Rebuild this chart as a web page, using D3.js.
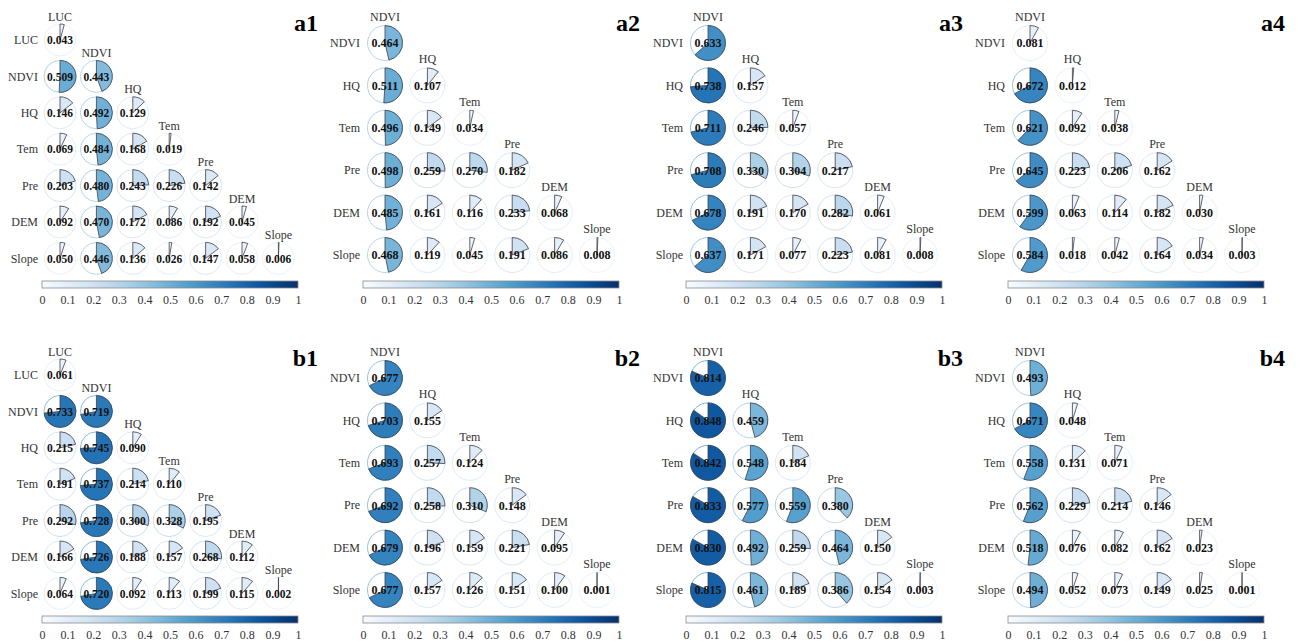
<!DOCTYPE html>
<html>
<head>
<meta charset="utf-8">
<script src="https://cdn.jsdelivr.net/npm/d3@7/dist/d3.min.js"></script>
<style>
  html, body { margin: 0; padding: 0; background: #fff; }
  svg { display: block; }
  svg text { font-family: "Liberation Serif", "Times New Roman", "DejaVu Serif", serif !important; }
</style>
</head>
<body>
<svg id="chart" width="1301" height="642" font-family="'Liberation Serif', 'Times New Roman', serif"></svg>
<script>
// Variable sets
const varsWithLUC = ["LUC", "NDVI", "HQ", "Tem", "Pre", "DEM", "Slope"];
const varsNoLUC = ["NDVI", "HQ", "Tem", "Pre", "DEM", "Slope"];

// Lower-triangle q values, one row per variable (row i has i+1 entries)
const a1Values = [
  [0.043],
  [0.509, 0.443],
  [0.146, 0.492, 0.129],
  [0.069, 0.484, 0.168, 0.019],
  [0.203, 0.480, 0.243, 0.226, 0.142],
  [0.092, 0.470, 0.172, 0.086, 0.192, 0.045],
  [0.050, 0.446, 0.136, 0.026, 0.147, 0.058, 0.006]
];
const a2Values = [
  [0.464],
  [0.511, 0.107],
  [0.496, 0.149, 0.034],
  [0.498, 0.259, 0.270, 0.182],
  [0.485, 0.161, 0.116, 0.233, 0.068],
  [0.468, 0.119, 0.045, 0.191, 0.086, 0.008]
];
const a3Values = [
  [0.633],
  [0.738, 0.157],
  [0.711, 0.246, 0.057],
  [0.708, 0.330, 0.304, 0.217],
  [0.678, 0.191, 0.170, 0.282, 0.061],
  [0.637, 0.171, 0.077, 0.223, 0.081, 0.008]
];
const a4Values = [
  [0.081],
  [0.672, 0.012],
  [0.621, 0.092, 0.038],
  [0.645, 0.223, 0.206, 0.162],
  [0.599, 0.063, 0.114, 0.182, 0.030],
  [0.584, 0.018, 0.042, 0.164, 0.034, 0.003]
];
const b1Values = [
  [0.061],
  [0.733, 0.719],
  [0.215, 0.745, 0.090],
  [0.191, 0.737, 0.214, 0.110],
  [0.292, 0.728, 0.300, 0.328, 0.195],
  [0.166, 0.726, 0.188, 0.157, 0.268, 0.112],
  [0.064, 0.720, 0.092, 0.113, 0.199, 0.115, 0.002]
];
const b2Values = [
  [0.677],
  [0.703, 0.155],
  [0.693, 0.257, 0.124],
  [0.692, 0.258, 0.310, 0.148],
  [0.679, 0.196, 0.159, 0.221, 0.095],
  [0.677, 0.157, 0.126, 0.151, 0.100, 0.001]
];
const b3Values = [
  [0.814],
  [0.848, 0.459],
  [0.842, 0.548, 0.184],
  [0.833, 0.577, 0.559, 0.380],
  [0.830, 0.492, 0.259, 0.464, 0.150],
  [0.815, 0.461, 0.189, 0.386, 0.154, 0.003]
];
const b4Values = [
  [0.493],
  [0.671, 0.048],
  [0.558, 0.131, 0.071],
  [0.562, 0.229, 0.214, 0.146],
  [0.518, 0.076, 0.082, 0.162, 0.023],
  [0.494, 0.052, 0.073, 0.149, 0.025, 0.001]
];

const panelNames = ["a1", "a2", "a3", "a4", "b1", "b2", "b3", "b4"];
const colorbarTicks = [0, 0.1, 0.2, 0.3, 0.4, 0.5, 0.6, 0.7, 0.8, 0.9, 1];
const colorbarTickLabels = ["0", "0.1", "0.2", "0.3", "0.4", "0.5", "0.6", "0.7", "0.8", "0.9", "1"];

const panels = [
  { name: panelNames[0], vars: varsWithLUC, values: a1Values },
  { name: panelNames[1], vars: varsNoLUC, values: a2Values },
  { name: panelNames[2], vars: varsNoLUC, values: a3Values },
  { name: panelNames[3], vars: varsNoLUC, values: a4Values },
  { name: panelNames[4], vars: varsWithLUC, values: b1Values },
  { name: panelNames[5], vars: varsNoLUC, values: b2Values },
  { name: panelNames[6], vars: varsNoLUC, values: b3Values },
  { name: panelNames[7], vars: varsNoLUC, values: b4Values }
];

const SERIF = "'Liberation Serif', 'Times New Roman', 'DejaVu Serif', serif";

// Panel placement
const colStarts = [60, 385, 708, 1030];
const rowOffsets = [0, 335];

const color = d3.scaleSequential(d3.interpolateBlues).domain([0, 1]);
const svg = d3.select("#chart");

// Shared gradient for the colour bars
const defs = svg.append("defs");
const grad = defs.append("linearGradient").attr("id", "bluesGrad")
  .attr("x1", "0%").attr("x2", "100%").attr("y1", "0%").attr("y2", "0%");
d3.range(0, 1.0001, 0.05).forEach(t => {
  grad.append("stop").attr("offset", (t * 100) + "%").attr("stop-color", color(t));
});

panels.forEach((p, pi) => {
  const col = pi % 4, row = Math.floor(pi / 4);
  const n = p.vars.length;
  const small = n === 7;
  const step = small ? 36.4 : 42.4;
  const r = small ? 16 : 17.5;
  const x0 = colStarts[col];
  const y0 = (small ? 40 : 43) + rowOffsets[row];

  const x = d3.scalePoint().domain(p.vars).range([x0, x0 + (n - 1) * step]);
  const y = d3.scalePoint().domain(p.vars).range([y0, y0 + (n - 1) * step]);

  const g = svg.append("g").attr("class", "panel").attr("font-family", SERIF);

  const cells = [];
  p.values.forEach((rowVals, i) => {
    rowVals.forEach((v, j) => {
      cells.push({ rowVar: p.vars[i], colVar: p.vars[j], v, diag: i === j });
    });
  });

  const arc = d3.arc().innerRadius(0).outerRadius(r).startAngle(0);

  const cell = g.selectAll("g.cell").data(cells).join("g")
    .attr("class", "cell")
    .attr("transform", d => `translate(${x(d.colVar)},${y(d.rowVar)})`);

  cell.append("circle")
    .attr("r", r)
    .attr("fill", "#fff")
    .attr("stroke", d => d3.interpolateBlues(0.06 + d.v * 0.5))
    .attr("stroke-width", 1);

  cell.append("path")
    .attr("d", d => arc({ endAngle: d.v * 2 * Math.PI }))
    .attr("fill", d => color(d.v))
    .attr("stroke", "#3b3f4c")
    .attr("stroke-width", 0.8)
    .attr("stroke-linejoin", "miter");

  cell.append("text")
    .attr("text-anchor", "middle")
    .attr("dy", "0.36em")
    .attr("font-family", SERIF)
    .attr("font-size", small ? 11.5 : 12)
    .attr("font-weight", "bold")
    .attr("fill", "#111")
    .text(d => d3.format(".3f")(d.v));

  // Column titles above the diagonal cells
  g.selectAll("text.diag").data(p.vars).join("text")
    .attr("class", "diag")
    .attr("x", d => x(d))
    .attr("y", d => y(d) - r - (small ? 3.5 : 4.5))
    .attr("text-anchor", "middle")
    .attr("font-family", SERIF)
    .attr("font-size", 12)
    .attr("fill", "#333")
    .text(d => d);

  // Row labels
  g.selectAll("text.rowlab").data(p.vars).join("text")
    .attr("class", "rowlab")
    .attr("x", x0 - (small ? 22 : 25))
    .attr("y", d => y(d))
    .attr("dy", "0.35em")
    .attr("text-anchor", "end")
    .attr("font-family", SERIF)
    .attr("font-size", 12)
    .attr("fill", "#333")
    .text(d => d);

  // Panel tag
  g.append("text")
    .attr("x", x0 + (small ? 258 : 255))
    .attr("y", 31 + rowOffsets[row])
    .attr("text-anchor", "end")
    .attr("font-family", SERIF)
    .attr("font-size", 24)
    .attr("font-weight", "bold")
    .attr("fill", "#000")
    .text(p.name);

  // Colour bar
  const cbX = x0 - (small ? 18 : 22);
  const cbW = 256;
  const cbY = 281 + rowOffsets[row];
  const cbH = 7;
  g.append("rect")
    .attr("x", cbX).attr("y", cbY).attr("width", cbW).attr("height", cbH)
    .attr("fill", "url(#bluesGrad)")
    .attr("stroke", "#8a8a8a").attr("stroke-width", 0.8);

  const cbScale = d3.scaleLinear().domain([0, 1]).range([cbX, cbX + cbW]);
  const axis = d3.axisBottom(cbScale)
    .tickValues(colorbarTicks)
    .tickFormat((d, i) => colorbarTickLabels[i])
    .tickSize(0)
    .tickPadding(7);
  const ax = g.append("g").attr("transform", `translate(0,${cbY + cbH})`).call(axis);
  ax.attr("font-family", SERIF);
  ax.select(".domain").remove();
  ax.selectAll("text")
    .attr("font-family", SERIF)
    .attr("font-size", 12)
    .attr("fill", "#333");
});
</script>
</body>
</html>
